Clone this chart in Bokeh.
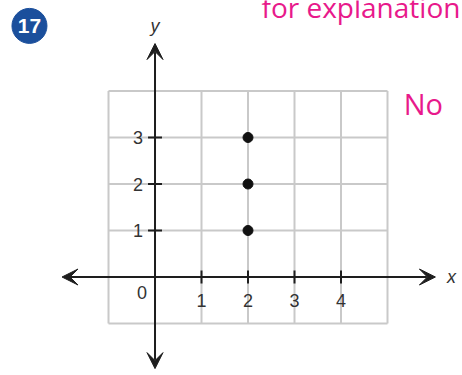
from bokeh.plotting import figure
from bokeh.models import Arrow, VeeHead, Range1d
from bokeh.core.properties import value
from bokeh.embed import file_html
from bokeh.resources import INLINE

# data
grid_x = [-1, 0, 1, 2, 3, 4, 5]
grid_y = [-1, 0, 1, 2, 3, 4]
x_ticks = [1, 2, 3, 4]
x_tick_labels = ["1", "2", "3", "4"]
y_ticks = [1, 2, 3]
y_tick_labels = ["1", "2", "3"]
pts_x = [2, 2, 2]
pts_y = [1, 2, 3]
answer = "No"
note = "for explanation"
problem = "17"

# layout (data-space extents of decorations)
X_AXIS = (-2.0, 6.03)
Y_AXIS = (-1.97, 5.02)

p = figure(width=462, height=375, output_backend="svg", toolbar_location=None,
           x_range=Range1d(-3.323, 6.613), y_range=Range1d(-2.118, 5.946),
           min_border=0, outline_line_color=None)
p.axis.visible = False
p.grid.visible = False
p.background_fill_color = "white"

GRID = "#c9c9c9"
p.segment(x0=grid_x, y0=[min(grid_y)] * len(grid_x), x1=grid_x, y1=[max(grid_y)] * len(grid_x),
          line_color=GRID, line_width=2)
p.segment(x0=[min(grid_x)] * len(grid_y), y0=grid_y, x1=[max(grid_x)] * len(grid_y), y1=grid_y,
          line_color=GRID, line_width=2)

AX = "#1e1e1e"
p.add_layout(Arrow(x_start=X_AXIS[0], y_start=0, x_end=X_AXIS[1], y_end=0, line_color=AX, line_width=2,
                   start=VeeHead(size=16, fill_color=AX, line_color=AX),
                   end=VeeHead(size=16, fill_color=AX, line_color=AX)))
p.add_layout(Arrow(x_start=0, y_start=Y_AXIS[0], x_end=0, y_end=Y_AXIS[1], line_color=AX, line_width=2,
                   start=VeeHead(size=16, fill_color=AX, line_color=AX),
                   end=VeeHead(size=16, fill_color=AX, line_color=AX)))

# tick marks
p.segment(x0=x_ticks, y0=[-0.14] * 4, x1=x_ticks, y1=[0.14] * 4, line_color=AX, line_width=2)
p.segment(x0=[-0.15] * 3, y0=y_ticks, x1=[0.15] * 3, y1=y_ticks, line_color=AX, line_width=2)

LBL = "#333333"
p.text(x=x_ticks, y=[0] * 4, text=x_tick_labels, y_offset=23, text_align="center",
       text_baseline="middle", text_font=value("Liberation Sans"), text_font_size="18px", text_color=LBL)
p.text(x=[0] * 3, y=y_ticks, text=y_tick_labels, x_offset=-17, text_align="center",
       text_baseline="middle", text_font=value("Liberation Sans"), text_font_size="18px", text_color=LBL)
p.text(x=[0], y=[0], text=["0"], x_offset=-13, y_offset=15, text_align="center",
       text_baseline="middle", text_font=value("Liberation Sans"), text_font_size="18px", text_color=LBL)

# axis names
p.text(x=[0], y=[Y_AXIS[1]], text=["y"], y_offset=-18, text_align="center", text_baseline="middle",
       text_font=value("Liberation Sans"), text_font_style="italic", text_font_size="18px", text_color=LBL)
p.text(x=[X_AXIS[1]], y=[0], text=["x"], x_offset=16, text_align="center", text_baseline="middle",
       text_font=value("Liberation Sans"), text_font_style="italic", text_font_size="18px", text_color=LBL)

# points
p.scatter(x=pts_x, y=pts_y, size=10, fill_color="#111111", line_color="#111111")

# problem badge
p.scatter(x=[-2.70], y=[5.40], size=35, fill_color="#1b4f9c", line_color="#1b4f9c")
p.text(x=[-2.70], y=[5.40], text=[problem], text_align="center", text_baseline="middle",
       text_font=value("Liberation Sans"), text_font_style="bold", text_font_size="21px", text_color="white")

PINK = "#e8198b"
p.text(x=[5.35], y=[3.731], text=[answer], text_align="left", text_baseline="middle",
       text_font=value("Open Sans"), text_font_size="29px", text_color=PINK)
p.text(x=[2.29], y=[5.80], text=[note], text_align="left", text_baseline="middle",
       text_font=value("Open Sans"), text_font_size="28px", text_color=PINK)

open("out.html", "w").write(file_html(p, INLINE))
